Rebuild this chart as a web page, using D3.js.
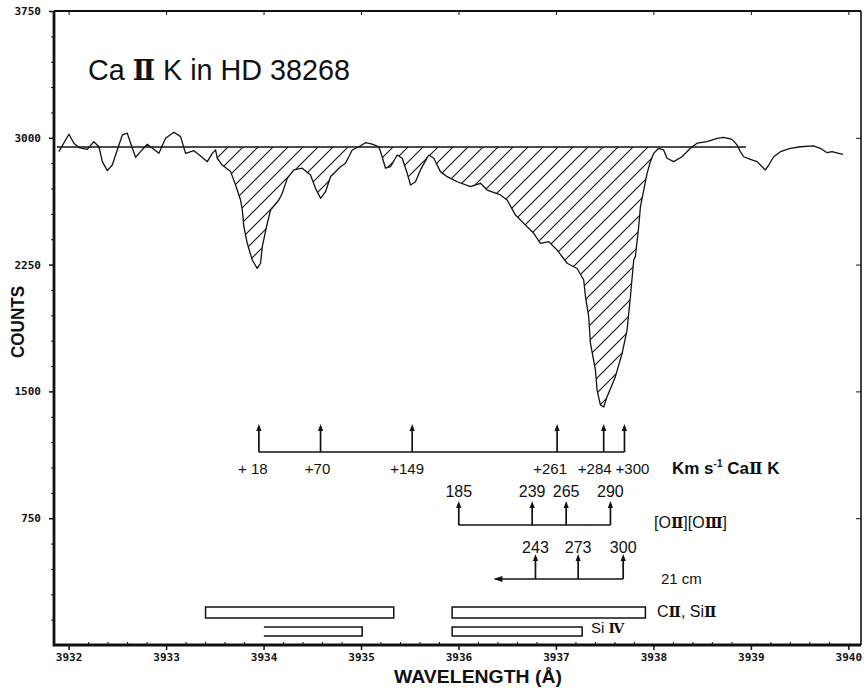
<!DOCTYPE html>
<html>
<head>
<meta charset="utf-8">
<script src="https://cdn.jsdelivr.net/npm/d3@7"></script>
<style>
  html, body { margin: 0; padding: 0; background: #fff; }
  svg { display: block; }
  .tick text { font-family: "DejaVu Sans Mono", monospace; font-weight: bold; font-size: 11px; fill: #111; }
  .lbl { font-family: "Liberation Sans", Arial, sans-serif; fill: #111; }
  .roman { font-family: "DejaVu Serif", "Liberation Serif", serif; font-weight: bold; }
</style>
</head>
<body>
<svg id="chart" width="864" height="688"></svg>
<script>
// Ca II K spectrum of HD 38268: wavelength (Å) and counts
const wavelength = [
  3931.900, 3932.003, 3932.054, 3932.106, 3932.192, 3932.259, 3932.311, 3932.346, 3932.397, 3932.448,
  3932.499, 3932.551, 3932.602, 3932.636, 3932.687, 3932.738, 3932.807, 3932.875, 3932.926, 3932.995,
  3933.080, 3933.149, 3933.200, 3933.285, 3933.354, 3933.423, 3933.474, 3933.508, 3933.525, 3933.576,
  3933.662, 3933.713, 3933.764, 3933.782, 3933.798, 3933.833, 3933.884, 3933.935, 3933.969, 3933.987,
  3934.038, 3934.072, 3934.157, 3934.192, 3934.243, 3934.311, 3934.397, 3934.482, 3934.533, 3934.585,
  3934.636, 3934.687, 3934.756, 3934.790, 3934.841, 3934.910, 3934.977, 3935.046, 3935.115, 3935.183,
  3935.217, 3935.251, 3935.303, 3935.371, 3935.423, 3935.474, 3935.508, 3935.559, 3935.610, 3935.695,
  3935.747, 3935.815, 3935.884, 3935.987, 3936.123, 3936.226, 3936.294, 3936.431, 3936.499, 3936.585,
  3936.670, 3936.772, 3936.841, 3936.926, 3937.012, 3937.115, 3937.217, 3937.285, 3937.303, 3937.336,
  3937.354, 3937.405, 3937.422, 3937.456, 3937.490, 3937.525, 3937.610, 3937.679, 3937.730, 3937.764,
  3937.798, 3937.815, 3937.849, 3937.867, 3937.901, 3937.935, 3937.969, 3938.003, 3938.054, 3938.105,
  3938.140, 3938.208, 3938.294, 3938.379, 3938.448, 3938.550, 3938.653, 3938.721, 3938.807, 3938.858,
  3938.892, 3938.926, 3938.995, 3939.064, 3939.115, 3939.149, 3939.183, 3939.234, 3939.303, 3939.405,
  3939.508, 3939.644, 3939.713, 3939.782, 3939.833, 3939.901, 3939.945
];
const counts = [
  2918, 3021, 2968, 2942, 2932, 2977, 2947, 2859, 2806, 2839,
  2928, 3017, 3027, 2968, 2885, 2918, 2962, 2932, 2908, 2997,
  3033, 3007, 2908, 2924, 2892, 2859, 2908, 2928, 2879, 2839,
  2800, 2721, 2632, 2573, 2474, 2376, 2277, 2228, 2258, 2356,
  2494, 2573, 2632, 2672, 2760, 2810, 2820, 2780, 2701, 2642,
  2681, 2770, 2810, 2829, 2849, 2928, 2947, 2971, 2963, 2947,
  2888, 2820, 2829, 2898, 2879, 2790, 2721, 2740, 2810, 2898,
  2879, 2800, 2770, 2740, 2711, 2731, 2691, 2662, 2632, 2543,
  2494, 2435, 2376, 2386, 2336, 2258, 2227, 2159, 2060, 1942,
  1785, 1627, 1508, 1420, 1408, 1469, 1587, 1725, 1863, 2060,
  2277, 2297, 2474, 2593, 2691, 2790, 2859, 2908, 2938, 2928,
  2879, 2859, 2888, 2938, 2968, 2977, 2997, 3003, 2991, 2958,
  2918, 2888, 2873, 2859, 2829, 2810, 2839, 2888, 2918, 2938,
  2947, 2952, 2938, 2912, 2918, 2908, 2902
];

// adopted continuum level and its extent
const continuumCounts = 2946;
const continuumRange = [3931.88, 3938.95];
// wavelength span of the shaded absorption
const absorptionRange = [3933.49, 3938.06];

// axis ticks
const yTicks = [750, 1500, 2250, 3000, 3750];
const xTicks = [3932, 3933, 3934, 3935, 3936, 3937, 3938, 3939, 3940];

// Ca II K velocity components (km/s) and their wavelengths
const caVelocity = ["+ 18", "+70", "+149", "+261", "+284", "+300"];
const caWavelength = [3933.952, 3934.585, 3935.525, 3937.012, 3937.490, 3937.703];

// [O II][O III] velocities and wavelengths
const oxyVelocity = ["185", "239", "265", "290"];
const oxyWavelength = [3936.003, 3936.756, 3937.105, 3937.559];

// 21 cm velocities and wavelengths, plus the leftward extension
const hiVelocity = ["243", "273", "300"];
const hiWavelength = [3936.790, 3937.228, 3937.690];
const hiTail = 3936.379;

// wavelength ranges of the C II, Si II and Si IV bands
const cSiBands = [[3933.405, 3935.336], [3935.935, 3937.918]];
const siIVBands = [[3934.003, 3935.012], [3935.935, 3937.269]];

// ---- layout ----
const svg = d3.select("#chart");

const x = d3.scaleLinear().domain([3931.85, 3940.13]).range([54, 861]);
const y = d3.scaleLinear().domain([0, 3750]).range([645, 11]);

const spec = wavelength.map((w, i) => ({ w, c: counts[i] }));

// text made of plain and Roman-numeral pieces: [text, isRoman]
function richText(parent, px, py, size, parts, bold) {
  const t = parent.append("text").attr("class", "lbl")
    .attr("x", px).attr("y", py).attr("font-size", size);
  if (bold) t.attr("font-weight", "bold");
  parts.forEach(([s, roman]) => {
    const sp = t.append("tspan").text(s);
    if (roman) sp.attr("class", "roman").attr("font-size", size * 0.92);
  });
  return t;
}

// hatch pattern
const defs = svg.append("defs");
const pat = defs.append("pattern")
  .attr("id", "hatch")
  .attr("patternUnits", "userSpaceOnUse")
  .attr("width", 15).attr("height", 15);
pat.append("path")
  .attr("d", "M-2,2 L2,-2 M0,15 L15,0 M13,17 L17,13")
  .attr("stroke", "#111").attr("stroke-width", 1.1);

// shaded absorption between continuum and spectrum
const absData = spec.filter(d => d.w >= absorptionRange[0] && d.w <= absorptionRange[1]);
svg.append("path")
  .datum(absData)
  .attr("fill", "url(#hatch)")
  .attr("d", d3.area()
    .x(d => x(d.w))
    .y0(y(continuumCounts))
    .y1(d => y(Math.min(d.c, continuumCounts))));

// continuum
svg.append("line")
  .attr("x1", x(continuumRange[0])).attr("x2", x(continuumRange[1]))
  .attr("y1", y(continuumCounts)).attr("y2", y(continuumCounts))
  .attr("stroke", "#111").attr("stroke-width", 1.6);

// spectrum
svg.append("path")
  .datum(spec)
  .attr("fill", "none")
  .attr("stroke", "#111")
  .attr("stroke-width", 1.3)
  .attr("stroke-linejoin", "round")
  .attr("d", d3.line().x(d => x(d.w)).y(d => y(d.c)));

// ---- axes ----
const yMinor = d3.range(150, 3750, 150).filter(v => v % 750 !== 0);
const xMinor = d3.range(0, 41).map(i => 3932 + i * 0.2).filter(v => Math.abs(v - Math.round(v)) > 1e-6);

const gl = svg.append("g").attr("transform", `translate(${x.range()[0]},0)`)
  .call(d3.axisLeft(y).tickValues(yTicks).tickSize(5).tickPadding(8).tickFormat(d3.format("d")));
gl.select(".domain").remove();
gl.selectAll(".tick line").attr("stroke-width", 1.5);
svg.append("g").attr("transform", `translate(${x.range()[0]},0)`)
  .call(d3.axisLeft(y).tickValues(yMinor).tickSize(3).tickFormat(""))
  .call(g => g.select(".domain").remove());

const gb = svg.append("g").attr("transform", `translate(0,${y.range()[0]})`)
  .call(d3.axisBottom(x).tickValues(xTicks).tickSize(5).tickPadding(3).tickFormat(d3.format("d")));
gb.select(".domain").remove();
gb.selectAll(".tick line").attr("stroke-width", 1.5);
svg.append("g").attr("transform", `translate(0,${y.range()[0]})`)
  .call(d3.axisTop(x).tickValues(xMinor).tickSize(3).tickFormat(""))
  .call(g => g.select(".domain").remove());

// right and top ticks pointing inward
svg.append("g").attr("transform", `translate(${x.range()[1]},0)`)
  .call(d3.axisLeft(y).tickValues(yTicks).tickSize(5).tickFormat(""))
  .call(g => g.select(".domain").remove());
svg.append("g").attr("transform", `translate(0,${y.range()[1]})`)
  .call(d3.axisBottom(x).tickValues(xTicks).tickSize(4).tickFormat(""))
  .call(g => g.select(".domain").remove());

// frame
const [fx0, fx1] = x.range(), [fy0, fy1] = y.range();
svg.append("path")
  .attr("d", `M${fx1},${fy1} L${fx0},${fy1}`)
  .attr("stroke", "#111").attr("stroke-width", 2).attr("fill", "none");
svg.append("path")
  .attr("d", `M${fx1},${fy1} L${fx1},${fy0}`)
  .attr("stroke", "#111").attr("stroke-width", 1.6).attr("fill", "none");
svg.append("path")
  .attr("d", `M${fx0},${fy1} L${fx0},${fy0} L${fx1},${fy0}`)
  .attr("stroke", "#111").attr("stroke-width", 2.8).attr("fill", "none");

svg.selectAll(".tick line").attr("stroke", "#111");

// axis titles
svg.append("text")
  .attr("class", "lbl")
  .attr("transform", "translate(24,322) rotate(-90)")
  .attr("text-anchor", "middle")
  .attr("font-weight", "bold")
  .attr("font-size", 18)
  .attr("textLength", 72).attr("lengthAdjust", "spacingAndGlyphs")
  .text("COUNTS");
svg.append("text")
  .attr("class", "lbl")
  .attr("x", 478).attr("y", 683)
  .attr("text-anchor", "middle")
  .attr("font-weight", "bold")
  .attr("font-size", 19)
  .attr("textLength", 168).attr("lengthAdjust", "spacingAndGlyphs")
  .text("WAVELENGTH (Å)");

// title
richText(svg, 88, 80, 30, [["Ca "], ["Ⅱ", true], [" K in HD 38268"]])
  .attr("textLength", 262).attr("lengthAdjust", "spacingAndGlyphs");

// ---- velocity markers ----
function arrowHead(g, px, py) {
  g.append("path")
    .attr("d", `M${px},${py} L${px - 2.6},${py + 7} L${px + 2.6},${py + 7} Z`)
    .attr("fill", "#111");
}
function markerRow(wl, baseY, topY, from, to) {
  const g = svg.append("g");
  g.append("line")
    .attr("x1", x(from)).attr("x2", x(to))
    .attr("y1", baseY).attr("y2", baseY)
    .attr("stroke", "#111").attr("stroke-width", 1.7);
  wl.forEach(w => {
    g.append("line")
      .attr("x1", x(w)).attr("x2", x(w))
      .attr("y1", baseY).attr("y2", topY + 3)
      .attr("stroke", "#111").attr("stroke-width", 1.7);
    arrowHead(g, x(w), topY);
  });
  return g;
}

// Ca II K
markerRow(caWavelength, 452, 424, caWavelength[0], caWavelength[caWavelength.length - 1]);
const caNudge = [-6, -3, -5, -7, -9, 8];
svg.append("g").selectAll("text").data(caVelocity).join("text")
  .attr("class", "lbl")
  .attr("x", (d, i) => x(caWavelength[i]) + caNudge[i])
  .attr("y", 474)
  .attr("text-anchor", "middle")
  .attr("font-size", 15)
  .text(d => d);
const caLabel = svg.append("text").attr("class", "lbl")
  .attr("x", 672).attr("y", 474).attr("font-size", 17).attr("font-weight", "bold");
caLabel.append("tspan").text("Km s");
caLabel.append("tspan").attr("font-size", 10).attr("dy", -7).text("-1");
caLabel.append("tspan").attr("dy", 7).text(" Ca");
caLabel.append("tspan").attr("class", "roman").attr("font-size", 16).text("Ⅱ");
caLabel.append("tspan").text(" K");

// [O II][O III]
markerRow(oxyWavelength, 525, 501, oxyWavelength[0], oxyWavelength[oxyWavelength.length - 1]);
svg.append("g").selectAll("text").data(oxyVelocity).join("text")
  .attr("class", "lbl")
  .attr("x", (d, i) => x(oxyWavelength[i]))
  .attr("y", 497)
  .attr("text-anchor", "middle")
  .attr("font-size", 16)
  .text(d => d);
richText(svg, 654, 528, 16, [["[O"], ["Ⅱ", true], ["][O"], ["Ⅲ", true], ["]"]]);

// 21 cm
const hiRow = markerRow(hiWavelength, 579, 554, hiTail, hiWavelength[hiWavelength.length - 1]);
hiRow.append("path")
  .attr("d", `M${x(hiTail) - 2},579 L${x(hiTail) + 7},576 L${x(hiTail) + 7},582 Z`)
  .attr("fill", "#111");
svg.append("g").selectAll("text").data(hiVelocity).join("text")
  .attr("class", "lbl")
  .attr("x", (d, i) => x(hiWavelength[i]))
  .attr("y", 553)
  .attr("text-anchor", "middle")
  .attr("font-size", 16)
  .text(d => d);
svg.append("text").attr("class", "lbl")
  .attr("x", 661).attr("y", 584).attr("font-size", 15)
  .text("21 cm");

// C II, Si II and Si IV bands
svg.append("g").selectAll("rect").data(cSiBands).join("rect")
  .attr("x", d => x(d[0])).attr("width", d => x(d[1]) - x(d[0]))
  .attr("y", 607).attr("height", 11)
  .attr("fill", "none").attr("stroke", "#111").attr("stroke-width", 1.5);
svg.append("g").selectAll("path").data(siIVBands).join("path")
  .attr("d", (d, i) => {
    const a = x(d[0]), b = x(d[1]);
    return i === 0
      ? `M${a},627 L${b},627 L${b},636 L${a},636`
      : `M${a},627 L${b},627 L${b},636 L${a},636 Z`;
  })
  .attr("fill", "none").attr("stroke", "#111").attr("stroke-width", 1.5);
richText(svg, 657, 617, 16, [["C"], ["Ⅱ", true], [", Si"], ["Ⅱ", true]]);
richText(svg, 591, 633, 15, [["Si "], ["Ⅳ", true]]);
</script>
</body>
</html>
